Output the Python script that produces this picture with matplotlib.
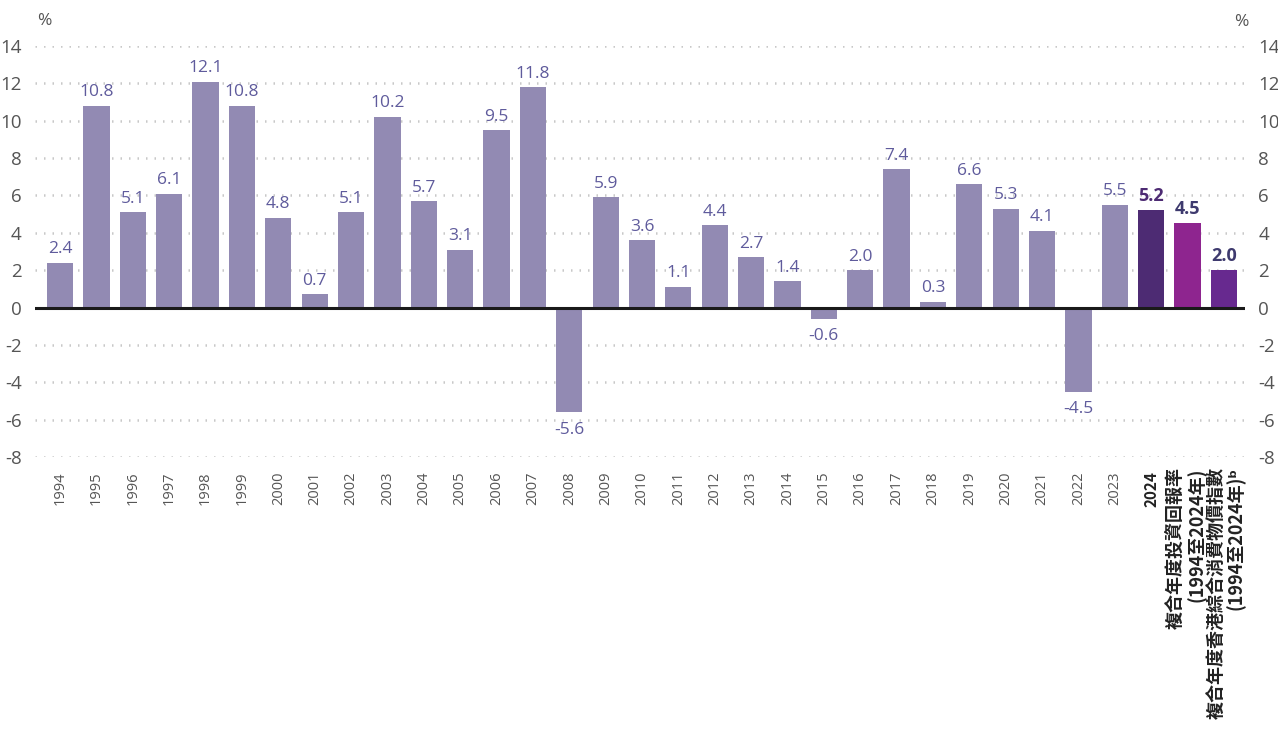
import matplotlib
matplotlib.use("Agg")
import matplotlib.pyplot as plt
import matplotlib.transforms as mtransforms
import numpy as np

# Annual returns (%), 1994-2024, plus two compound-rate bars
years = [str(y) for y in range(1994, 2025)]
annual_returns = [2.4, 10.8, 5.1, 6.1, 12.1, 10.8, 4.8, 0.7, 5.1, 10.2,
                  5.7, 3.1, 9.5, 11.8, -5.6, 5.9, 3.6, 1.1, 4.4, 2.7,
                  1.4, -0.6, 2.0, 7.4, 0.3, 6.6, 5.3, 4.1, -4.5, 5.5, 5.2]
compound_labels = [["複合年度投資回報率", "(1994至2024年)"],
                   ["複合年度香港綜合消費物價指數", "(1994至2024年)ᵇ"]]
compound_values = [4.5, 2.0]

values = annual_returns + compound_values
n = len(values)

base_color = "#928AB3"
bar_colors = [base_color] * (len(years) - 1) + ["#4D2B73", "#8E258F", "#67298F"]
label_colors = ["#5F5B9C"] * (len(years) - 1) + ["#4D2B73", "#3E3A6E", "#3E3A6E"]
bold_from = len(years) - 1

num_font = ["Open Sans", "DejaVu Sans"]
cjk_font = ["Noto Sans CJK TC", "DejaVu Sans"]

fig = plt.figure(figsize=(12.78, 7.47), dpi=100)
ax = fig.add_axes([35 / 1278, 0.3882, 1210 / 1278, 0.5502])

x = np.arange(n)
ax.bar(x, values, width=0.72, color=bar_colors, zorder=2)
ax.axhline(0, color="#1a1a1a", lw=2.2, zorder=3)

ax.set_ylim(-8, 14)
ax.set_xlim(-0.69, n - 0.42)
yt = np.arange(-8, 15, 2)
ax.set_yticks(yt)
ax.set_yticklabels([str(v) for v in yt], family=num_font,
                   fontsize=13.5, color="#555555")
for v in yt:
    if v != 0:
        ax.axhline(v, color="#c8c8c8", lw=1.8, linestyle=(0, (0.6, 2.8)), zorder=1)

for s in ax.spines.values():
    s.set_visible(False)
ax.tick_params(axis="y", left=False, right=False, labelleft=True, labelright=True, pad=6)
ax.tick_params(axis="x", bottom=False, pad=7)

# year tick labels; the compound bars get hand-placed two-line labels below
ax.set_xticks(x)
ax.set_xticklabels(years + ["", ""], rotation=90, va="top", ha="center")
for i, t in enumerate(ax.get_xticklabels()):
    if i < bold_from:
        t.set_family(num_font)
        t.set_fontsize(10.5)
        t.set_color("#555555")
    else:
        t.set_family(cjk_font)
        t.set_fontweight("bold")
        t.set_fontsize(11)
        t.set_color("#222222")

base = mtransforms.blended_transform_factory(ax.transData, ax.transAxes)
line_shift = [[-9.0, 6.5], [-5.0, 8.5]]  # points, per text line
for k, lines in enumerate(compound_labels):
    xi = len(years) + k
    for j, line in enumerate(lines):
        tr = base + mtransforms.ScaledTranslation(line_shift[k][j] / 72, 0, fig.dpi_scale_trans)
        ax.text(xi, -0.025, line, transform=tr, rotation=90, ha="center", va="top",
                family=cjk_font, fontweight="bold", fontsize=13, color="#222222")

for i, v in enumerate(values):
    bold = i >= bold_from
    off = 4 if v >= 0 else -7
    ax.annotate(f"{v:.1f}", (i, v), xytext=(0, off), textcoords="offset points",
                ha="center", va="bottom" if v >= 0 else "top",
                family=num_font, fontweight="bold" if bold else "normal",
                fontsize=13 if bold else 12.5, color=label_colors[i], zorder=4)

fig.text(44 / 1278, 1 - 21 / 747, "%", ha="center", va="center", family=num_font,
         fontsize=12.5, color="#555555")
fig.text(1241 / 1278, 1 - 22 / 747, "%", ha="center", va="center", family=num_font,
         fontsize=12.5, color="#555555")

fig.savefig("out.png", dpi=100)
